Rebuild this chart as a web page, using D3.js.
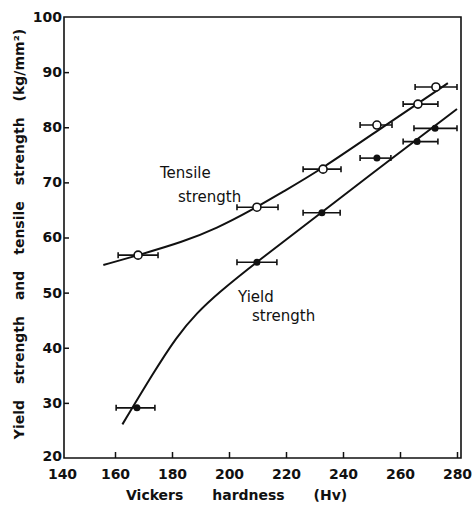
<!DOCTYPE html>
<html>
<head>
<meta charset="utf-8">
<script src="https://cdn.jsdelivr.net/npm/d3@7/dist/d3.min.js"></script>
<style>
  html, body { margin: 0; padding: 0; background: #fff; }
  svg { display: block; }
  text { font-family: "DejaVu Sans", sans-serif; fill: #111; }
</style>
</head>
<body>
<div id="chart"></div>
<script>
// ---- data ----
const xTicks = [140, 160, 180, 200, 220, 240, 260, 280];
const yTicks = [20, 30, 40, 50, 60, 70, 80, 90, 100];

// Tensile strength measurements: hardness, strength, hardness error low/high
const tensileHv   = [168.1, 209.8, 233.0, 251.9, 266.3, 272.6];
const tensileS    = [56.8, 65.5, 72.4, 80.4, 84.2, 87.3];
const tensileLo   = [161.1, 202.8, 226.0, 246.0, 261.1, 265.3];
const tensileHi   = [175.1, 217.2, 239.3, 257.2, 273.3, 280.0];

// Yield strength measurements
const yieldHv     = [167.7, 209.8, 232.6, 251.9, 266.0, 272.3];
const yieldS      = [29.1, 55.5, 64.5, 74.4, 77.4, 79.8];
const yieldLo     = [160.4, 202.8, 226.0, 246.0, 261.1, 264.9];
const yieldHi     = [174.0, 216.8, 239.0, 256.8, 273.3, 280.0];

// Fitted curves (hand-drawn in original), traced points
const tensileCurveHv = [155.9, 168.2, 183.9, 195.8, 207.4, 218.9, 231.9, 254.4, 276.8];
const tensileCurveS  = [55.0, 56.8, 59.2, 61.7, 64.8, 68.3, 72.2, 80.2, 88.0];
const yieldCurveHv   = [162.6, 173.4, 181.6, 188.7, 196.1, 209.8, 232.6, 256.5, 280.0];
const yieldCurveS    = [26.1, 35.4, 42.0, 46.3, 49.9, 55.6, 64.6, 74.1, 83.3];

const xTitle = "Vickers hardness (Hv)";
const yTitle = "Yield strength and tensile strength (kg/mm²)";

// ---- layout ----
const W = 474, H = 506;
const frame = { left: 64, right: 461, top: 17, bottom: 458 };

const svg = d3.select("#chart").append("svg")
  .attr("width", W).attr("height", H);
svg.append("rect").attr("width", W).attr("height", H).attr("fill", "#fff");

const x = d3.scaleLinear().domain([140, 280]).range([58, 457]);
const y = d3.scaleLinear().domain([20, 100]).range([458, 17]);

// frame
svg.append("path")
  .attr("d", `M${frame.left},${frame.top}H${frame.right}V${frame.bottom}H${frame.left}Z`)
  .attr("fill", "none").attr("stroke", "#111").attr("stroke-width", 1.6);

// x axis
const xAxis = svg.append("g")
  .attr("transform", `translate(0,${frame.bottom})`)
  .call(d3.axisBottom(x).tickValues(xTicks).tickSize(-6).tickPadding(11).tickFormat(d3.format("d")));
xAxis.select(".domain").remove();
xAxis.selectAll(".tick line").attr("stroke", "#111").attr("stroke-width", 1.5)
  .attr("display", d => (d === 140 ? "none" : null));
xAxis.selectAll(".tick text").style("font-size", "14px").style("font-weight", "bold").attr("fill", "#111")
  .attr("dx", d => (d === 140 ? 4 : 0));

// y axis
const yAxis = svg.append("g")
  .attr("transform", `translate(${frame.left},0)`)
  .call(d3.axisLeft(y).tickValues(yTicks).tickSize(-5).tickPadding(2).tickFormat(d3.format("d")));
yAxis.select(".domain").remove();
yAxis.selectAll(".tick line").attr("stroke", "#111").attr("stroke-width", 1.5)
  .attr("display", d => (d === 20 || d === 100 ? "none" : null));
yAxis.selectAll(".tick text").style("font-size", "14px").style("font-weight", "bold").attr("fill", "#111")
  .attr("dy", d => (d === 20 ? "0.15em" : "0.32em"));

// titles
svg.append("text")
  .attr("x", 126).attr("y", 500)
  .style("font-size", "14px").style("font-weight", "bold").style("word-spacing", "24px")
  .text(xTitle);

svg.append("text")
  .attr("transform", "translate(24,234) rotate(-90)")
  .attr("text-anchor", "middle")
  .style("font-size", "14px").style("font-weight", "bold").style("word-spacing", "11px")
  .text(yTitle);

// curves
const line = d3.line().x(d => x(d[0])).y(d => y(d[1])).curve(d3.curveBasis);
const tensileCurve = tensileCurveHv.map((v, i) => [v, tensileCurveS[i]]);
const yieldCurve = yieldCurveHv.map((v, i) => [v, yieldCurveS[i]]);

svg.append("path").datum(tensileCurve).attr("d", line)
  .attr("fill", "none").attr("stroke", "#111").attr("stroke-width", 2);
svg.append("path").datum(yieldCurve).attr("d", line)
  .attr("fill", "none").attr("stroke", "#111").attr("stroke-width", 2);

// error bars
function errorBars(hv, s, lo, hi) {
  const g = svg.append("g").attr("stroke", "#111").attr("stroke-width", 1.6);
  const data = hv.map((v, i) => ({ s: s[i], lo: lo[i], hi: hi[i] }));
  g.selectAll("line.bar").data(data).join("line").attr("class", "bar")
    .attr("x1", d => x(d.lo)).attr("x2", d => x(d.hi))
    .attr("y1", d => y(d.s)).attr("y2", d => y(d.s));
  g.selectAll("line.capl").data(data).join("line").attr("class", "capl")
    .attr("x1", d => x(d.lo)).attr("x2", d => x(d.lo))
    .attr("y1", d => y(d.s) - 3).attr("y2", d => y(d.s) + 3);
  g.selectAll("line.caph").data(data).join("line").attr("class", "caph")
    .attr("x1", d => x(d.hi)).attr("x2", d => x(d.hi))
    .attr("y1", d => y(d.s) - 3).attr("y2", d => y(d.s) + 3);
}
errorBars(tensileHv, tensileS, tensileLo, tensileHi);
errorBars(yieldHv, yieldS, yieldLo, yieldHi);

// markers
svg.append("g").selectAll("circle").data(tensileHv.map((v, i) => [v, tensileS[i]])).join("circle")
  .attr("cx", d => x(d[0])).attr("cy", d => y(d[1])).attr("r", 4)
  .attr("fill", "#fff").attr("stroke", "#111").attr("stroke-width", 1.6);
svg.append("g").selectAll("circle").data(yieldHv.map((v, i) => [v, yieldS[i]])).join("circle")
  .attr("cx", d => x(d[0])).attr("cy", d => y(d[1])).attr("r", 3.5)
  .attr("fill", "#111");

// annotations
const ann = svg.append("g").style("font-size", "15px");
ann.append("text").attr("x", 160).attr("y", 178).text("Tensile");
ann.append("text").attr("x", 178).attr("y", 202).text("strength");
ann.append("text").attr("x", 238).attr("y", 302).text("Yield");
ann.append("text").attr("x", 252).attr("y", 321).text("strength");
</script>
</body>
</html>
